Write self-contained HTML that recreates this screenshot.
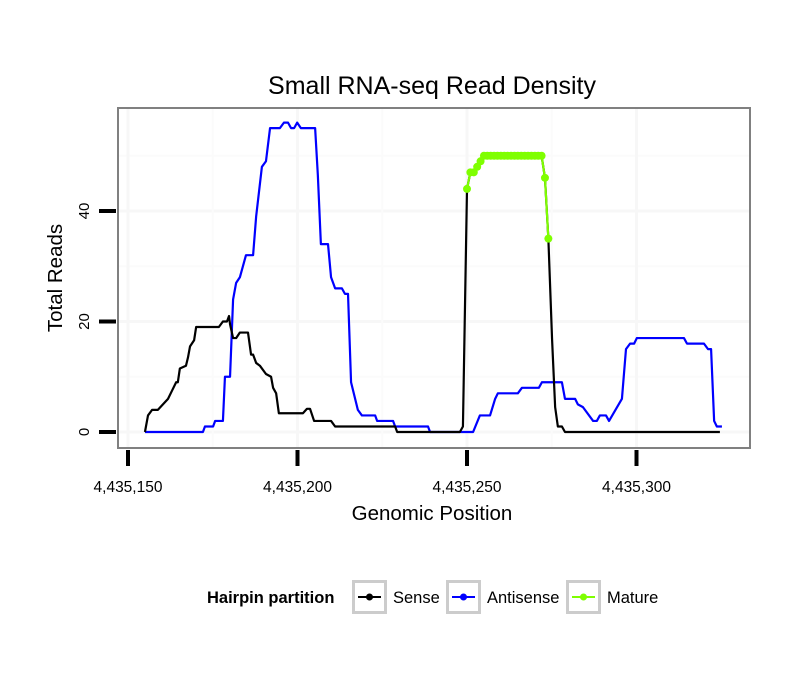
<!DOCTYPE html>
<html><head><meta charset="utf-8"><style>
body{margin:0;background:#fff;}
svg{display:block;font-family:"Liberation Sans",sans-serif;}
</style></head><body>
<svg id="chart" width="810" height="690">
<rect width="810" height="690" fill="#fff"/>
<text x="432" y="94" font-size="25" text-anchor="middle">Small RNA-seq Read Density</text>
<g id="grid"></g>
<g id="series"></g>
<rect x="118" y="108" width="632" height="340" fill="none" stroke="#808080" stroke-width="2"/>
<g id="axes"></g>
<text x="432" y="520" font-size="20.5" text-anchor="middle">Genomic Position</text>
<text transform="translate(62,278) rotate(-90)" font-size="20.5" text-anchor="middle">Total Reads</text>
<g>
<text x="207" y="603" font-size="16.5" font-weight="bold">Hairpin partition</text>
<g>
<rect x="353.5" y="581.5" width="32" height="31" fill="#fff" stroke="#ccc" stroke-width="3"/>
<line x1="358" y1="597" x2="381" y2="597" stroke="#000" stroke-width="2"/><circle cx="369.5" cy="597" r="3.5" fill="#000"/>
<text x="393" y="603" font-size="16.5">Sense</text></g>
<g>
<rect x="447.5" y="581.5" width="32" height="31" fill="#fff" stroke="#ccc" stroke-width="3"/>
<line x1="452" y1="597" x2="475" y2="597" stroke="#0000ff" stroke-width="2"/><circle cx="463.5" cy="597" r="3.5" fill="#0000ff"/>
<text x="487" y="603" font-size="16.5">Antisense</text></g>
<g>
<rect x="567.5" y="581.5" width="32" height="31" fill="#fff" stroke="#ccc" stroke-width="3"/>
<line x1="572" y1="597" x2="595" y2="597" stroke="#7fff00" stroke-width="2"/><circle cx="583.5" cy="597" r="3.5" fill="#7fff00"/>
<text x="607" y="603" font-size="16.5">Mature</text></g>
</g>
</svg>
<script>
const BASE = 4435150;
const xTicks = [4435150, 4435200, 4435250, 4435300];
const xTickLabels = ["4,435,150", "4,435,200", "4,435,250", "4,435,300"];
const yTicks = [0, 20, 40];
const yTickLabels = ["0", "20", "40"];
// positions are offsets from BASE
const sensePos = [5,5.9,7.1,8.8,11.8,13,14.2,14.7,15.3,17.1,17.7,18.3,19.5,20.1,26.8,28,29.2,29.8,30.1,31,31.9,33,35.4,36.3,36.9,37.8,38.9,40.7,42.2,42.8,43.7,44.5,51.6,52.8,53.7,54.9,59.9,61.1,78.8,79.4,97.9,98.8,100,101,102,103,104,105,122,123,124,125.1,126,126.8,128,128.9,174.6];
const senseVal = [0,3,4,4,6,7.5,9,9,11.5,12,13.5,15.5,16.6,19,19,20,20,21,19.5,17,17,18,18,14,14,12.5,12,10.5,10,8,7,3.4,3.4,4.2,4.2,2,2,1,1,0,0,1,44,47,47,48,49,50,50,46,35,16.7,4.5,1,1,0,0];
const antiPos = [5,22.1,22.7,25.1,25.7,28,28.6,30.1,31,31.9,33,34.8,36.9,37.8,39.5,40.7,41.9,44.8,46,47.2,48.1,49,49.9,51,55.2,56,56.9,59,59.9,61.1,63.1,64,64.9,65.8,67.8,69,72.9,73.5,78.2,78.8,88.5,89.1,101.8,103.8,106.8,108.3,109.1,115,116.2,121.2,122.1,128,128.9,131.9,132.7,134.2,137.2,138.3,139.2,141,141.9,145.7,146.9,148.1,149.3,150.1,164,164.9,169.9,171.1,172,172.9,173.7,175.2];
const antiVal = [0,0,1,1,2,2,10,10,24,27,28,32,32,39,48,49,55,55,56,56,55,55,56,55,55,46.5,34,34,28,26,26,25,25,9,4,3,3,2,2,1,1,0,0,3,3,6,7,7,8,8,9,9,6,6,5,4.5,2,2,3,3,2,6,15,16,16,17,17,16,16,15,15,2,1,1];
const maturePos = [100,101,102,103,104,105,106,107,108,109,110,111,112,113,114,115,116,117,118,119,120,121,122,123,124];
const matureVal = [44,47,47,48,49,50,50,50,50,50,50,50,50,50,50,50,50,50,50,50,50,50,50,46,35];

const NS = "http://www.w3.org/2000/svg";
const sx = v => 128 + (v - BASE) * 3.39;
const sxo = o => sx(BASE + o);
const sy = v => 432 - v * 5.525;
function mk(tag, attrs, parent){const e=document.createElementNS(NS,tag);for(const k in attrs)e.setAttribute(k,attrs[k]);parent.appendChild(e);return e;}

const grid = document.getElementById('grid');
mk('rect',{x:118,y:108,width:632,height:340,fill:'#fff'},grid);
[10,30,50].forEach(v=>{const l=mk('line',{x1:118,x2:750,y1:sy(v),y2:sy(v),stroke:'#fbfbfb','stroke-width':2},grid);

});
yTicks.forEach(v=>{const l=mk('line',{x1:118,x2:750,y1:sy(v),y2:sy(v),stroke:'#f7f7f7','stroke-width':3},grid);

});
[4435175,4435225,4435275].forEach(v=>{const l=mk('line',{x1:sx(v),x2:sx(v),y1:108,y2:448,stroke:'#fbfbfb','stroke-width':2},grid);

});
xTicks.forEach(v=>{const l=mk('line',{x1:sx(v),x2:sx(v),y1:108,y2:448,stroke:'#f7f7f7','stroke-width':3},grid);

});

const ser = document.getElementById('series');
function line(pos,val,color,name){
  const p=mk('polyline',{points:pos.map((o,i)=>sxo(o)+','+sy(val[i])).join(' '),fill:'none',stroke:color,'stroke-width':2.2,'stroke-linejoin':'round'},ser);
  
  
}
line(antiPos,antiVal,'#0000ff','antisense-line');
line(sensePos,senseVal,'#000','sense-line');
line(maturePos,matureVal,'#7fff00','mature-line');
maturePos.forEach((o,i)=>{const c=mk('circle',{cx:sxo(o),cy:sy(matureVal[i]),r:4,fill:'#7fff00'},ser);

});

const ax = document.getElementById('axes');
xTicks.forEach((v,i)=>{
  const t=mk('line',{x1:sx(v),x2:sx(v),y1:450,y2:466,stroke:'#000','stroke-width':4},ax);
  
  
  const tx=mk('text',{x:sx(v),y:492,'font-size':15.5,'text-anchor':'middle'},ax);
  tx.textContent=xTickLabels[i];
  
  
});
yTicks.forEach((v,i)=>{
  const t=mk('line',{x1:99,x2:116,y1:sy(v),y2:sy(v),stroke:'#000','stroke-width':4},ax);
  
  
  const tx=mk('text',{transform:'translate(89,'+sy(v)+') rotate(-90)','font-size':15,'text-anchor':'middle'},ax);
  tx.textContent=yTickLabels[i];
  
  
});
</script>
</body></html>
